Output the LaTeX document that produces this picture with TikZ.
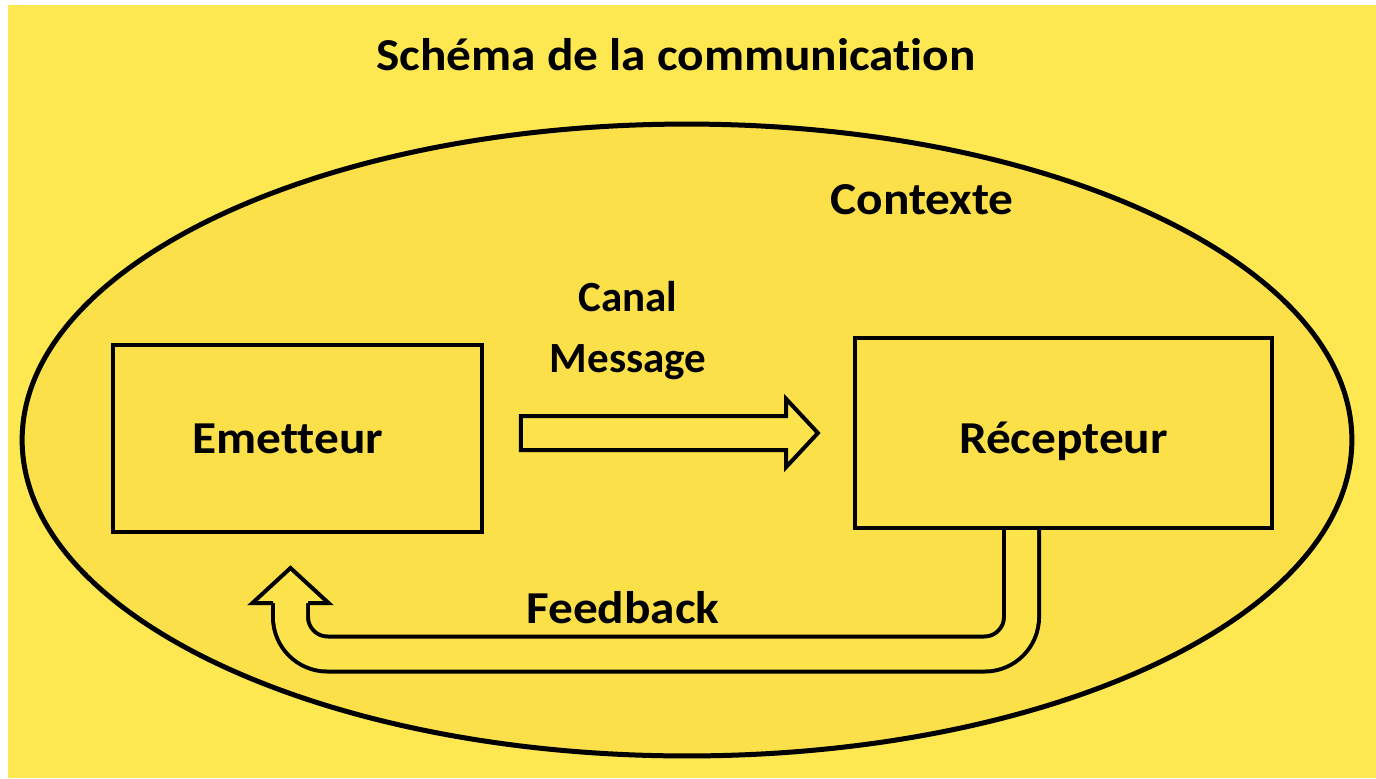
\documentclass[tikz,border=0pt]{standalone}
\usepackage{fontspec}
\setmainfont[Ligatures=NoCommon, FakeStretch=1.08]{Carlito}
\newfontfamily\narrowfont[Ligatures=NoCommon]{Carlito}
\usetikzlibrary{shapes.geometric,shapes.arrows,positioning}
\definecolor{paper}{RGB}{254,232,82}
\definecolor{inside}{RGB}{251,224,74}
\definecolor{arrowfill}{RGB}{254,228,76}

\begin{document}
\begin{tikzpicture}[x=0.02cm, y=-0.02cm,
        bigtext/.style={font=\fontsize{26}{30}\selectfont\bfseries},
        canaltext/.style={font=\narrowfont\fontsize{24.5}{28}\selectfont\bfseries},
        box/.style={draw, line width=0.09cm, fill=inside, bigtext},
        feedback/.style={draw=black, line width=0.08cm, double=arrowfill, double distance=0.62cm, rounded corners=0.74cm},
        fbhead/.style={draw=black, fill=arrowfill, line width=0.08cm, line join=miter},
        msgarrow/.style={single arrow, draw, fill=arrowfill, line width=0.08cm, inner sep=0.3cm,
            minimum height=5.94cm, single arrow head extend=0.34cm, single arrow tip angle=94}]
                    % Page
                    \useasboundingbox (0,0) rectangle (1376,778);
                    \fill[white] (0,0) rectangle (1376,778);
                    \fill[paper] (8,5) rectangle (1376,778);
                    % Nodes
                    \node[bigtext] (title) at (676,55) {Schéma de la communication};
                    \node[ellipse, draw, line width=0.1cm, fill=inside, minimum width=26.6cm, minimum height=12.64cm] (ctx) at (687,440) {};
                    \node[bigtext] (contexte) at (922,200) {Contexte};
                    \node[box, minimum width=7.38cm, minimum height=3.74cm,
                        label={[bigtext, xshift=-0.19cm]center:Emetteur}] (em) at (297.5,438.5) {};
                    \node[canaltext] (canal) at (628,297) {Canal};
                    \node[canaltext, below=0.4cm of canal.south, anchor=north] (message) {Message};
                    \node[msgarrow] (msg) at (661.5,433) {};
                    \node[bigtext] (feedbacklbl) at (623,608) {Feedback};
                    % Edges
                    \coordinate (fbtop) at ([xshift=-0.84cm]1063.5,528);
                    \coordinate (fbbase) at (290.5,603);
                    \coordinate (fbtip) at (290.5,568);
                    \draw[feedback] (fbtop) -- ++(0,126) -| (fbbase);
                    \filldraw[fbhead] (fbbase) ++(-17.5,0) -- ++(-20.5,0) -- (fbtip) -- ++(38,35) -- ++(-20.5,0);
                    \node[box, minimum width=8.34cm, minimum height=3.8cm,
                        label={[bigtext, yshift=-0.16cm]center:Récepteur}] (rec) at (1063.5,433) {};
                \end{tikzpicture}
\end{document}
